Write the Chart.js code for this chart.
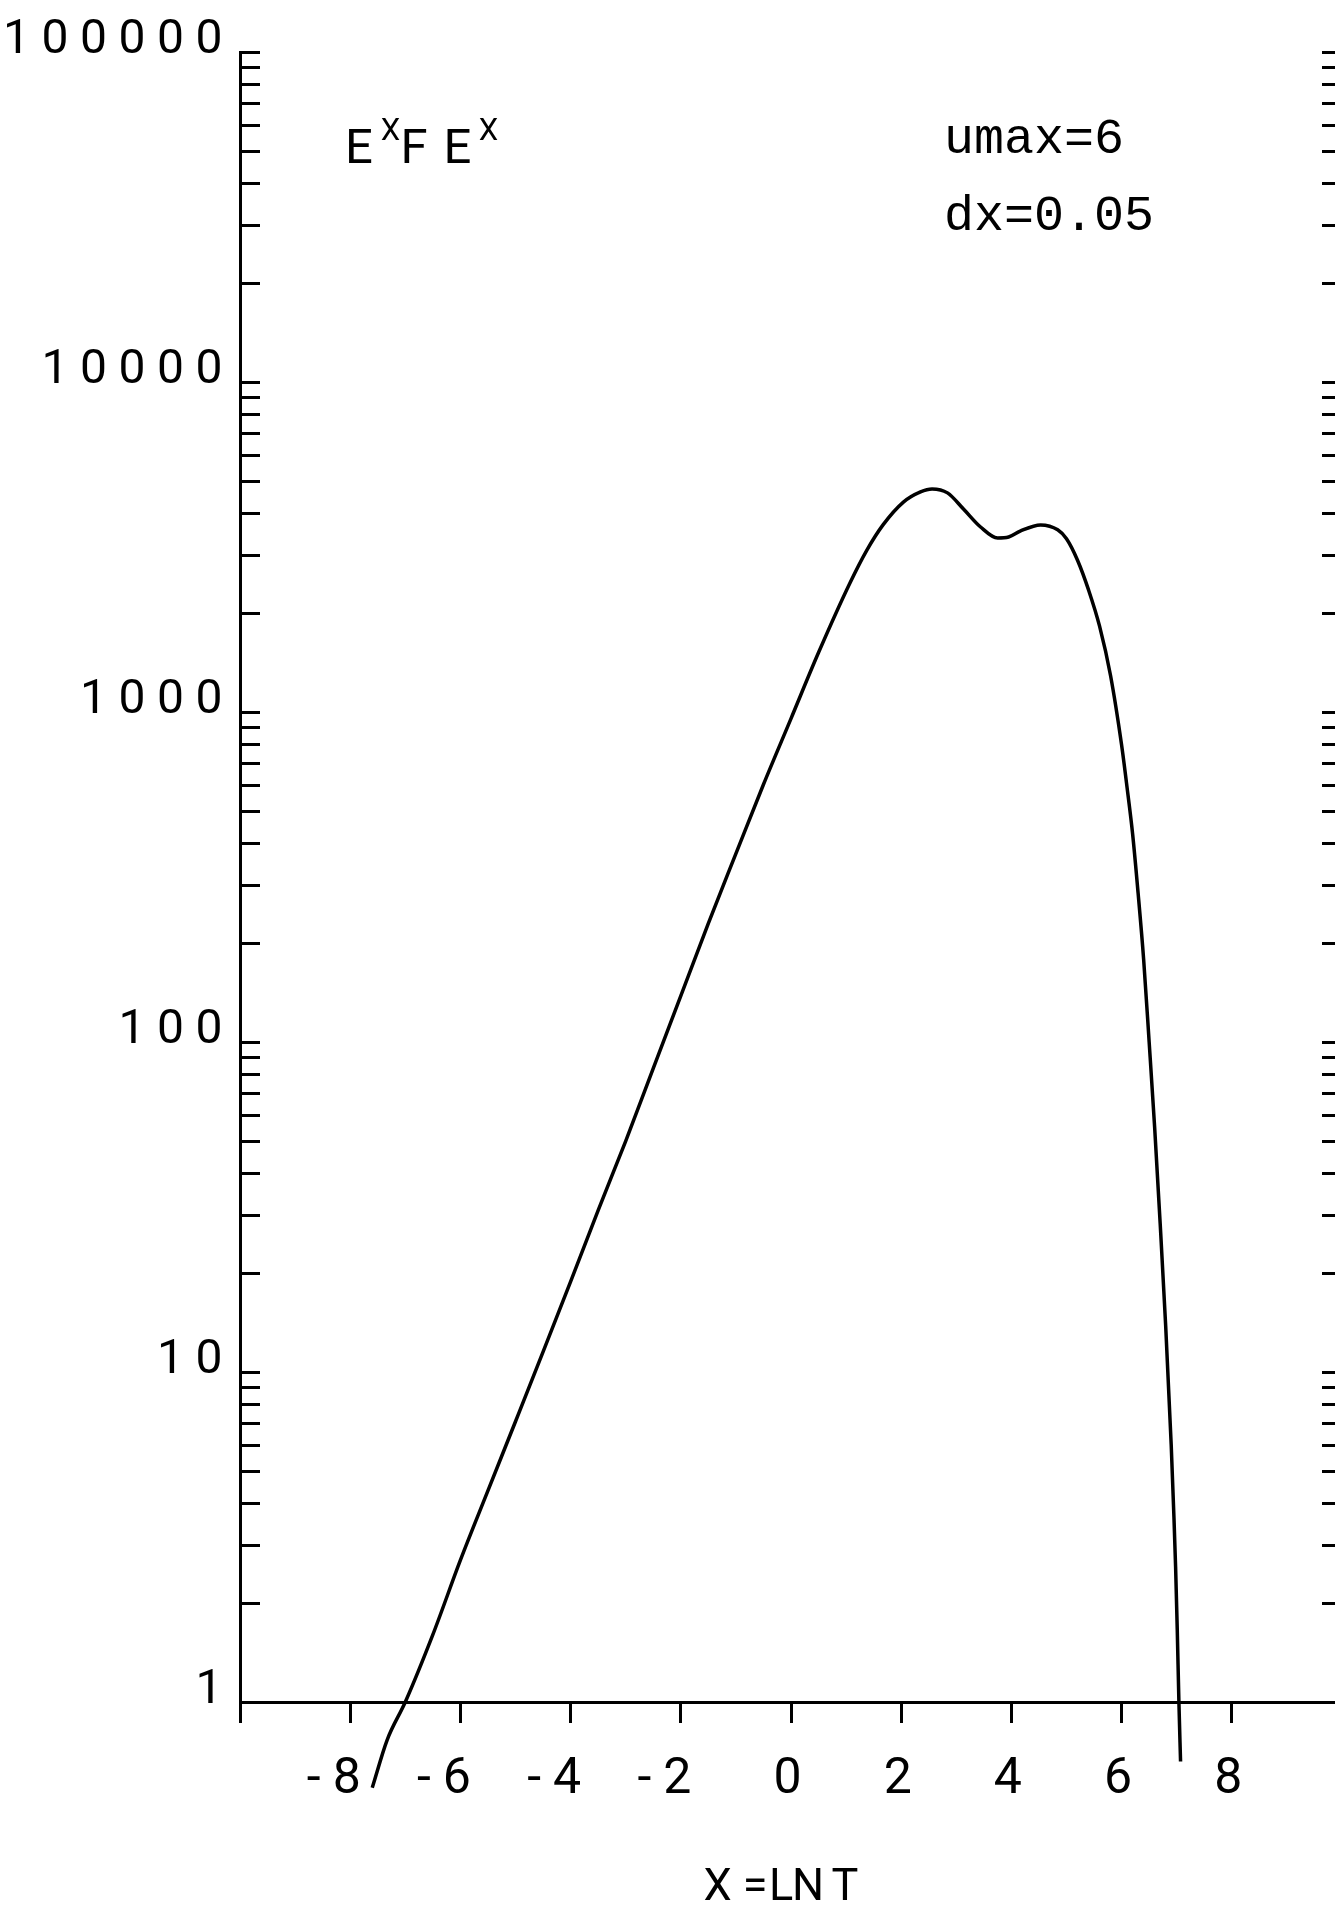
<!DOCTYPE html>
<html><head><meta charset="utf-8">
<script src="https://cdn.jsdelivr.net/npm/chart.js@4.4.1/dist/chart.umd.min.js"></script>
<style>
html,body{margin:0;padding:0;overflow:hidden;background:#fff;width:1335px;height:1910px}
#wrap{position:absolute;left:0;top:0;width:1360px;height:1910px}
</style>
</head><body>
<div id="wrap"><canvas id="c" width="1360" height="1910" style="width:1360px;height:1910px"></canvas></div>
<script>
// ---- data ----
const xValues = [-7.6, -7.33, -7.0, -6.5, -6.0, -5.5, -5.0, -4.5, -4.0, -3.5, -3.0, -2.5, -2.0, -1.5, -1.0, -0.5, 0.0, 0.5, 1.07, 1.38, 1.67, 2.04, 2.35, 2.56, 2.84, 3.13, 3.44, 3.75, 3.95, 4.16, 4.53, 4.84, 5.0, 5.2, 5.4, 5.6, 5.8, 6.0, 6.1, 6.2, 6.3, 6.4, 6.5, 6.6, 6.7, 6.8, 6.9, 6.95, 6.98, 7.01, 7.04, 7.07];
const yValues = [0.55, 0.767, 1.0, 1.60, 2.69, 4.37, 7.08, 11.5, 18.8, 30.9, 50.1, 83.2, 138, 229, 372, 603, 955, 1514, 2460, 3100, 3690, 4326, 4645, 4742, 4613, 4122, 3636, 3367, 3390, 3533, 3690, 3565, 3350, 2884, 2344, 1820, 1288, 794, 589, 427, 282, 178, 100, 55, 28.2, 13.8, 6.03, 3.63, 2.57, 1.66, 1.0, 0.66];
const xTickValues = [-8, -6, -4, -2, 0, 2, 4, 6, 8];
const xTickLabels = ['-8', '-6', '-4', '-2', '0', '2', '4', '6', '8'];
const yTickValues = [1, 10, 100, 1000, 10000, 100000];
const yTickLabels = ['1', '10', '100', '1000', '10000', '100000'];
const xAxisTitle = 'X =LNT';
const noteLines = ['umax=6', 'dx=0.05'];

const STROKE_FONT = '"Roboto", "Liberation Sans", sans-serif';

function drawChars(ctx, chars, centers, baseline, size, weight) {
  ctx.font = (weight || 400) + ' ' + size + 'px ' + STROKE_FONT;
  ctx.textAlign = 'center';
  ctx.textBaseline = 'alphabetic';
  for (let i = 0; i < chars.length; i++) ctx.fillText(chars[i], centers[i], baseline);
}

const bgPlugin = {
  id: 'bg',
  beforeDraw(chart) {
    const ctx = chart.ctx;
    ctx.save(); ctx.fillStyle = '#fff'; ctx.fillRect(0, 0, chart.width, chart.height); ctx.restore();
  }
};

const decorPlugin = {
  id: 'decor',
  afterDraw(chart) {
    const ctx = chart.ctx;
    const xs = chart.scales.x, ys = chart.scales.y;
    const L = chart.chartArea.left, R = chart.chartArea.right;
    ctx.save();
    ctx.strokeStyle = '#000'; ctx.fillStyle = '#000'; ctx.lineWidth = 3; ctx.lineCap = 'butt';
    // inward log ticks on left and right edges
    const vals = [];
    for (let e = 0; e < 5; e++) for (let m = 1; m <= 9; m++) vals.push(m * Math.pow(10, e));
    vals.push(100000);
    ctx.beginPath();
    vals.forEach(v => {
      const py = Math.round(ys.getPixelForValue(v)) + 0.5;
      ctx.moveTo(L, py); ctx.lineTo(L + 20, py);
      ctx.moveTo(R - 20, py); ctx.lineTo(R, py);
    });
    ctx.stroke();
    // y tick labels (bottom of text on the tick)
    yTickValues.forEach((v, i) => {
      const s = yTickLabels[i];
      const py = ys.getPixelForValue(v);
      const centers = [];
      for (let k = 0; k < s.length; k++) centers.push(L - 31 - (s.length - 1 - k) * 38.5);
      drawChars(ctx, s.split(''), centers, py + 1, 48);
    });
    // x tick labels (digit centred under tick, minus sign to its left)
    xTickValues.forEach((v, i) => {
      const s = xTickLabels[i];
      const px = xs.getPixelForValue(v) - 3.5;
      const digits = s.replace('-', '');
      drawChars(ctx, [digits], [px], 1793, 50);
      if (s.startsWith('-')) drawChars(ctx, ['-'], [px - 33], 1793, 50);
    });
    // x axis title
    drawChars(ctx, xAxisTitle.replace(' ', '').split(''), [717.5, 755, 781, 808, 845], 1900, 45);
    // function name E^x F E^x
    drawChars(ctx, ['E', 'F', 'E'], [359, 414, 457.5], 163, 49);
    drawChars(ctx, ['X', 'X'], [390.5, 488.5], 140, 31);
    // parameter notes
    ctx.font = '50px "Liberation Mono", "DejaVu Sans Mono", monospace';
    ctx.textAlign = 'left';
    ctx.textBaseline = 'alphabetic';
    ctx.fillText(noteLines[0], 944, 153);
    ctx.fillText(noteLines[1], 944, 230);
    ctx.restore();
  }
};

new Chart(document.getElementById('c'), {
  type: 'line',
  data: {
    datasets: [{
      data: xValues.map((x, i) => ({ x: x, y: yValues[i] })),
      borderColor: '#000',
      borderWidth: 3.5,
      pointRadius: 0,
      fill: false,
      cubicInterpolationMode: 'monotone',
      clip: false
    }]
  },
  options: {
    responsive: false,
    animation: false,
    devicePixelRatio: 1,
    layout: { padding: { left: 240, top: 52, right: 18, bottom: 0 } },
    plugins: { legend: { display: false }, tooltip: { enabled: false }, title: { display: false } },
    scales: {
      x: {
        type: 'linear', min: -10, max: 10, position: 'bottom',
        ticks: { display: false, stepSize: 2 },
        grid: { display: true, drawOnChartArea: false, drawTicks: true, tickLength: 21, lineWidth: 3, color: '#000' },
        border: { display: true, width: 3, color: '#000' },
        afterFit(s) { s.height = 208; }
      },
      y: {
        type: 'logarithmic', min: 1, max: 100000, position: 'left',
        ticks: { display: false },
        grid: { display: true, drawOnChartArea: false, drawTicks: false, lineWidth: 3, color: '#000' },
        border: { display: true, width: 3, color: '#000' },
        afterFit(s) { s.width = 0; }
      }
    }
  },
  plugins: [bgPlugin, decorPlugin]
});
</script>
</body></html>
